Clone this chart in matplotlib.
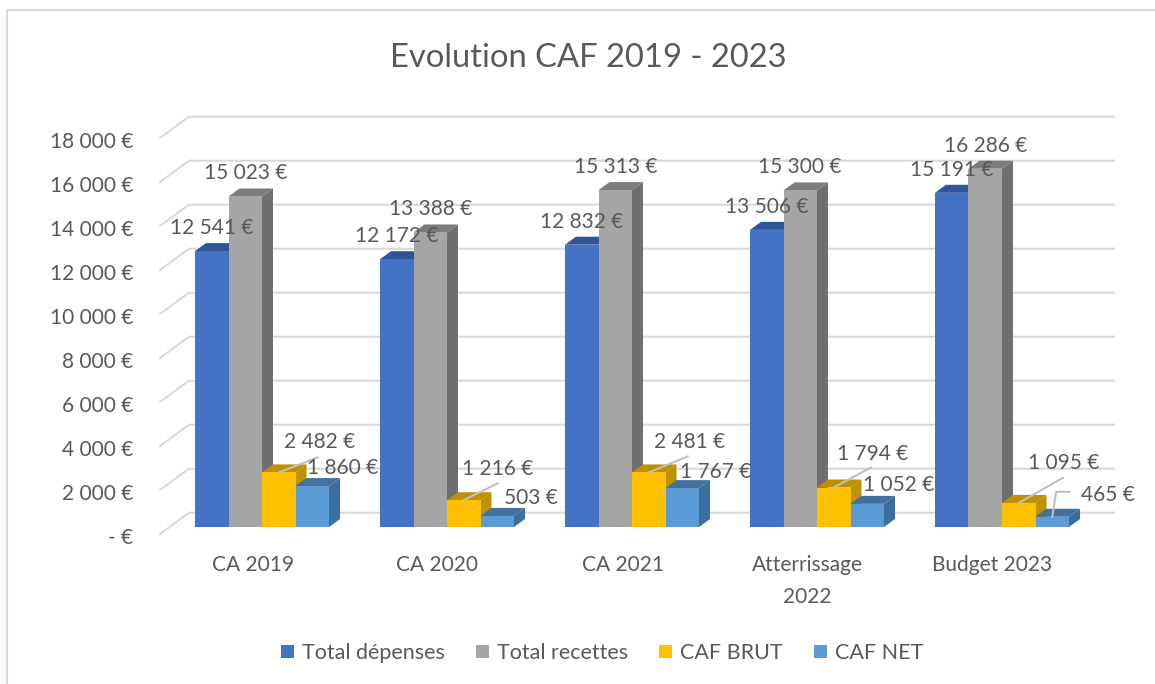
import matplotlib
matplotlib.use("Agg")
import matplotlib.pyplot as plt
from matplotlib.lines import Line2D
from matplotlib.patches import Polygon, Patch
from matplotlib.transforms import Affine2D

categories = ["CA 2019", "CA 2020", "CA 2021", "Atterrissage\n2022", "Budget 2023"]
total_depenses = [12541, 12172, 12832, 13506, 15191]
total_recettes = [15023, 13388, 15313, 15300, 16286]
caf_brut = [2482, 1216, 2481, 1794, 1095]
caf_net = [1860, 503, 1767, 1052, 465]
series_names = ["Total dépenses", "Total recettes", "CAF BRUT", "CAF NET"]
series_values = [total_depenses, total_recettes, caf_brut, caf_net]
y_ticks = list(range(0, 20000, 2000))

FRONT = ["#4472C4", "#A5A5A5", "#FFC000", "#5B9BD5"]
TOP = ["#2F5597", "#7C7C7C", "#BF9000", "#41719C"]
SIDE = ["#2F5597", "#6F6F6F", "#BF9000", "#3A6E9E"]
TXT = "#595959"
GRID = "#D9D9D9"
FONT = "Lato"


def euro(v):
    if v == 0:
        return "- €"
    return f"{v:,}".replace(",", " ") + " €"


W, H = 1155, 684
plt.rcParams["font.family"] = FONT
fig = plt.figure(figsize=(W / 100, H / 100), dpi=100)
# axes: x from pixel 160 to 1085 (five categories), y 0..18000 = pixel 527..131
ax = fig.add_axes([160 / W, (H - 527) / H, 925 / W, 396 / H])
ax.set_xlim(-0.5, 4.5)
ax.set_ylim(0, 18000)
for s in ax.spines.values():
    s.set_visible(False)
ax.patch.set_visible(False)

PX_X = 5 / 925  # category units per pixel
PX_Y = 18000 / 396  # value units per pixel
BAR_W = 33.5 * PX_X
BAR_SHIFT = 9.5 * PX_X
DX, DY = 11 * PX_X, 8 * PX_Y

# outer frame (left and top only are visible in the reference)
fig.add_artist(Line2D([7 / W, 7 / W, 1], [0, 1 - 10 / H, 1 - 10 / H], color=GRID, lw=1.5,
                      solid_joinstyle="miter"))

# walls & gridlines
wall_dx, wall_back = 29 * PX_X, 14.3 * PX_Y
wall_front = -7 * PX_Y
for t in y_ticks:
    ax.plot([-0.5, -0.5 + wall_dx, 4.5 + wall_dx], [t + wall_front, t + wall_back, t + wall_back],
            color=GRID, lw=1.5, clip_on=False, zorder=1, solid_joinstyle="miter")

# bars
for i in range(len(categories)):
    for j, vals in enumerate(series_values):
        v = vals[i]
        x0 = i + BAR_SHIFT + (j - 2) * BAR_W
        x1 = x0 + BAR_W
        z = 2 + j
        ax.add_patch(Polygon([(x1, 0), (x1 + DX, DY), (x1 + DX, v + DY), (x1, v)],
                             fc=SIDE[j], ec="none", zorder=z, clip_on=False))
        ax.add_patch(Polygon([(x0, v), (x0 + DX, v + DY), (x1 + DX, v + DY), (x1, v)],
                             fc=TOP[j], ec="none", zorder=z, clip_on=False))
        ax.bar(x0, v, BAR_W, align="edge", color=FRONT[j], zorder=z + 0.5, clip_on=False)

# data labels: pixel offset from (bar centre, bar top)
offsets = {
    0: [(0, 23)] * 5,
    1: [(0, 23)] * 5,
    2: [(41, 30), (34, 31), (41, 30), (39, 34), (45, 40)],
    3: [(30, 18), (34, 18), (33, 16), (31, 19), (56, 22)],
}
leaders = {
    2: [[(0, 0), (39, 15)], [(0, 0), (34, 17)], [(0, 0), (39, 16)], [(0, 0), (37, 20)], [(0, 0), (44, 25)]],
    3: [None, None, None, None, [(0, 0), (4, 25), (17, 25)]],
}
for j, vals in enumerate(series_values):
    for i, v in enumerate(vals):
        xc = i + BAR_SHIFT + (j - 1.5) * BAR_W
        ox, oy = offsets[j][i]
        ax.annotate(euro(v), xy=(xc, v), xytext=(ox, oy), textcoords="offset pixels",
                    ha="center", va="center", color=TXT, fontsize=15, zorder=20,
                    annotation_clip=False)
        pts = leaders.get(j, [None] * 5)[i]
        if pts:
            xs = [xc + p[0] * PX_X for p in pts]
            ys = [v + p[1] * PX_Y for p in pts]
            ax.plot(xs, ys, color="#BFBFBF", lw=1.5, zorder=15, clip_on=False)

# axes ticks
ax.set_xticks(range(len(categories)), categories)
ax.set_yticks(y_ticks, [euro(t) for t in y_ticks])
ax.tick_params(axis="both", length=0, labelcolor=TXT, labelsize=15)
ax.tick_params(axis="y", pad=19)
ax.tick_params(axis="x", pad=20.5)
for lab in ax.xaxis.get_majorticklabels():
    lab.set_linespacing(1.74)
down = Affine2D().translate(0, -11)
for lab in ax.yaxis.get_majorticklabels():
    lab.set_transform(lab.get_transform() + down)
    lab.set_va("center")

# title
fig.text(588 / W, 1 - 58 / H, "Evolution CAF 2019 - 2023", ha="center", va="center",
         color=TXT, fontsize=23.6)

# legend
handles = [Patch(fc=c, ec="none") for c in FRONT]
fig.legend(handles, series_names, loc="center", bbox_to_anchor=(602 / W, 1 - 653 / H),
           ncols=4, frameon=False, fontsize=15.5, labelcolor=TXT, handlelength=0.6,
           handleheight=0.6, handletextpad=0.37, columnspacing=1.45)

fig.savefig("out.png", dpi=100)
